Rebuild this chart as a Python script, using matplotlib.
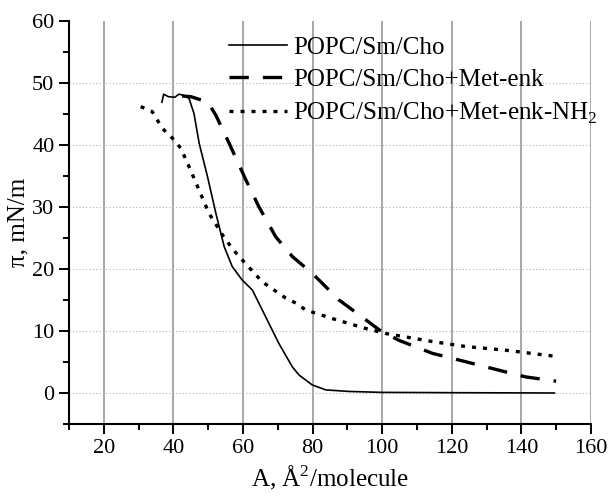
import matplotlib.pyplot as plt
from matplotlib.ticker import MultipleLocator

plt.rcParams["font.family"] = ["Liberation Serif", "DejaVu Serif"]
plt.rcParams["mathtext.fontset"] = "custom"
plt.rcParams["mathtext.rm"] = "Liberation Serif"

# pi-A isotherms: area per molecule (A^2) vs surface pressure (mN/m)
cho_area = [36.7, 37.2, 38.5, 40.4, 41.6, 43.0, 44.5, 45.9, 47.4, 49.8, 52.2, 54.6,
            56.9, 59.8, 62.7, 66.5, 70.3, 74.2, 76.1, 79.9, 83.8, 90.5, 100, 120, 149.5]
cho_pi = [46.9, 48.2, 47.8, 47.7, 48.2, 48.0, 47.5, 45.1, 40.3, 34.9, 29.0, 23.6,
          20.4, 18.2, 16.6, 12.3, 8.0, 4.2, 2.9, 1.3, 0.5, 0.25, 0.1, 0.05, 0.0]

enk_area = [42.5, 45.0, 47.8, 49.8, 52.2, 56.0, 60.8, 64.6, 69.4, 74.2, 79.9, 87.6,
            95.3, 99.1, 104.8, 114.4, 120.1, 127.8, 135.5, 141.2, 150.0]
enk_pi = [47.9, 47.8, 47.3, 47.0, 44.8, 40.3, 34.4, 30.0, 25.2, 22.0, 19.3, 15.0,
          11.8, 10.2, 8.5, 6.4, 5.6, 4.5, 3.4, 2.6, 1.9]

nh2_area = [30.6, 33.9, 36.8, 39.7, 42.1, 44.5, 47.4, 50.2, 54.1, 56.9, 58.9, 65.6,
            72.3, 75.2, 78.0, 85.7, 95.3, 101.0, 114.4, 124.0, 135.5, 150.0]
nh2_pi = [46.2, 45.4, 42.7, 41.1, 39.5, 36.5, 32.7, 29.0, 25.5, 23.3, 22.0, 17.9,
          15.3, 14.5, 13.4, 12.0, 10.4, 9.6, 8.3, 7.5, 6.9, 5.9]

labels = ["POPC/Sm/Cho", "POPC/Sm/Cho+Met-enk", "POPC/Sm/Cho+Met-enk-NH$_2$"]

fig = plt.figure(figsize=(6.08, 5.0), dpi=100)
ax = fig.add_axes([0.1135, 0.152, 0.8585, 0.806])

ax.plot(cho_area, cho_pi, color="black", lw=1.2, label=labels[0])
ax.plot(enk_area, enk_pi, color="black", lw=2.4, linestyle=(0, (5.8, 4.2)), label=labels[1])
ax.plot(nh2_area, nh2_pi, color="black", lw=2.4, linestyle=(0, (1.2, 2.1)), label=labels[2])

ax.set_xlim(10, 160)
ax.set_ylim(-5, 60)
ax.xaxis.set_major_locator(MultipleLocator(20))
ax.xaxis.set_minor_locator(MultipleLocator(10))
ax.yaxis.set_major_locator(MultipleLocator(10))
ax.yaxis.set_minor_locator(MultipleLocator(5))

ax.grid(axis="x", which="major", color="#a0a0a0", lw=1.3, linestyle="-")
ax.grid(axis="y", which="major", color="#b0b0b0", lw=0.8, linestyle=(0, (1, 2)))
ax.set_axisbelow(True)
# no grid lines on the plot edges
ax.xaxis.get_gridlines()[-1].set_visible(False)
for gl, tk in zip(ax.yaxis.get_gridlines(), ax.get_yticks()):
    if tk >= 60 or tk < 0:
        gl.set_visible(False)

for side in ("top", "right"):
    ax.spines[side].set_visible(False)
for side in ("left", "bottom"):
    ax.spines[side].set_linewidth(1.5)

ax.tick_params(which="major", direction="out", length=7, width=1.4, labelsize=16)
ax.tick_params(which="minor", direction="out", length=4, width=1.4)

ax.set_xlabel("A, Å$^2$/molecule", fontsize=18, labelpad=4)
ax.set_ylabel("π, mN/m", fontsize=18, labelpad=2)

ax.legend(loc="upper left", bbox_to_anchor=(0.283, 0.993), frameon=False, fontsize=18,
          handlelength=2.3, handletextpad=0.25, labelspacing=0.38, borderpad=0)

fig.savefig("out.png", dpi=100)
